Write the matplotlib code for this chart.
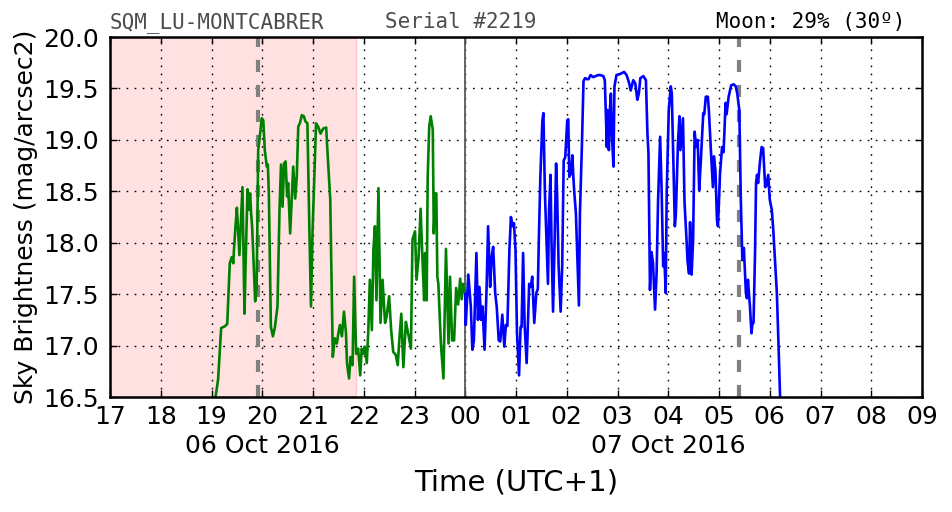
import matplotlib
matplotlib.use("Agg")
import matplotlib.pyplot as plt
import matplotlib.transforms as mtransforms

# ---------------- data ----------------
green_t = [19.05, 19.13, 19.19, 19.27, 19.31, 19.36, 19.40, 19.43, 19.44, 19.47, 19.50, 19.55,
           19.61, 19.65, 19.68, 19.71, 19.74, 19.76, 19.78, 19.80, 19.82, 19.86, 19.89, 19.92,
           19.96, 19.99, 20.02, 20.05, 20.09, 20.11, 20.13, 20.17, 20.21, 20.25, 20.30, 20.34,
           20.37, 20.40, 20.43, 20.46, 20.49, 20.51, 20.55, 20.58, 20.61, 20.65, 20.68, 20.71,
           20.74, 20.78, 20.82, 20.85, 20.89, 20.93, 20.96, 20.99, 21.03, 21.06, 21.10, 21.15,
           21.20, 21.26, 21.28, 21.34, 21.39, 21.43, 21.47, 21.50, 21.53, 21.57, 21.61, 21.65,
           21.67, 21.71, 21.74, 21.78, 21.81, 21.85, 21.89, 21.93, 21.96, 21.99, 22.02, 22.06,
           22.09, 22.12, 22.16, 22.19, 22.22, 22.25, 22.29, 22.33, 22.37, 22.42, 22.45, 22.50,
           22.54, 22.58, 22.63, 22.67, 22.70, 22.74, 22.78, 22.83, 22.87, 22.93, 22.96, 23.01,
           23.04, 23.08, 23.12, 23.16, 23.19, 23.21, 23.24, 23.26, 23.29, 23.32, 23.36, 23.38,
           23.41, 23.43, 23.45, 23.47, 23.52, 23.57, 23.62, 23.67, 23.70, 23.74, 23.78, 23.82,
           23.86, 23.90, 23.93, 23.96, 24.00]
green_m = [16.40, 16.67, 17.17, 17.19, 17.21, 17.80, 17.86, 17.80, 17.91, 18.14, 18.34, 17.88,
           18.54, 17.31, 17.96, 18.52, 18.32, 18.48, 18.29, 18.16, 17.93, 17.43, 17.57, 18.90,
           19.07, 19.21, 19.19, 18.90, 18.74, 18.76, 18.48, 17.18, 17.09, 17.18, 17.38, 18.32,
           18.76, 18.35, 18.77, 18.79, 18.45, 18.58, 18.09, 18.42, 18.74, 18.43, 18.64, 19.13,
           19.16, 19.24, 19.23, 19.18, 19.16, 18.09, 17.38, 18.09, 18.71, 19.16, 19.13, 19.06,
           19.11, 19.12, 18.93, 18.42, 16.89, 17.07, 17.02, 17.12, 17.20, 17.09, 17.33, 17.12,
           16.83, 16.68, 16.89, 16.81, 17.67, 16.92, 16.97, 16.71, 16.97, 16.92, 16.99, 16.83,
           17.15, 17.64, 17.15, 17.93, 18.16, 17.44, 18.53, 17.22, 17.64, 17.22, 17.28, 17.48,
           17.15, 16.94, 16.91, 16.81, 17.05, 17.31, 16.79, 17.23, 17.13, 16.97, 18.03, 18.11,
           17.64, 17.85, 18.33, 17.80, 17.44, 17.90, 17.44, 18.64, 19.13, 19.23, 19.10, 18.09,
           18.48, 18.48, 17.67, 17.60, 17.02, 16.68, 17.94, 17.02, 17.67, 17.05, 17.05, 17.56,
           17.40, 17.65, 17.45, 17.60, 17.50]

blue_t = [24.00, 24.01, 24.06, 24.11, 24.14, 24.17, 24.22, 24.25, 24.28, 24.31, 24.34, 24.38,
          24.42, 24.45, 24.49, 24.52, 24.55, 24.59, 24.62, 24.66, 24.69, 24.73, 24.77, 24.80,
          24.83, 24.87, 24.90, 24.93, 24.96, 24.99, 25.02, 25.06, 25.09, 25.11, 25.14, 25.17,
          25.21, 25.26, 25.29, 25.32, 25.36, 25.40, 25.43, 25.45, 25.48, 25.52, 25.54, 25.57,
          25.60, 25.63, 25.65, 25.68, 25.70, 25.73, 25.76, 25.79, 25.81, 25.84, 25.88, 25.91,
          25.94, 25.97, 26.01, 26.03, 26.05, 26.08, 26.11, 26.13, 26.15, 26.18, 26.21, 26.24,
          26.26, 26.30, 26.33, 26.36, 26.40, 26.43, 26.47, 26.52, 26.57, 26.62, 26.66, 26.72,
          26.75, 26.79, 26.80, 26.83, 26.85, 26.87, 26.89, 26.92, 26.94, 26.98, 27.05, 27.13,
          27.18, 27.23, 27.26, 27.31, 27.35, 27.39, 27.42, 27.45, 27.51, 27.56, 27.59, 27.61,
          27.64, 27.67, 27.70, 27.74, 27.77, 27.80, 27.84, 27.87, 27.90, 27.92, 27.95, 27.97,
          28.01, 28.05, 28.07, 28.10, 28.13, 28.15, 28.19, 28.22, 28.24, 28.26, 28.29, 28.32,
          28.36, 28.38, 28.41, 28.43, 28.46, 28.49, 28.52, 28.55, 28.58, 28.61, 28.64, 28.69,
          28.71, 28.74, 28.78, 28.80, 28.84, 28.88, 28.90, 28.93, 28.96, 28.98, 29.02, 29.06,
          29.09, 29.13, 29.15, 29.19, 29.24, 29.29, 29.33, 29.36, 29.40, 29.43, 29.46, 29.49,
          29.53, 29.55, 29.57, 29.61, 29.64, 29.66, 29.68, 29.71, 29.73, 29.75, 29.77, 29.81,
          29.84, 29.87, 29.91, 29.93, 29.97, 30.00, 30.04, 30.07, 30.10, 30.14, 30.17, 30.21]
blue_m = [17.50, 17.20, 17.69, 17.38, 16.96, 17.05, 17.90, 17.25, 17.57, 17.25, 17.38, 16.96,
          17.55, 18.16, 17.57, 17.86, 17.96, 17.51, 17.38, 17.05, 17.04, 17.30, 16.99, 17.20,
          17.19, 17.93, 18.25, 18.16, 18.19, 17.93, 17.12, 16.71, 17.18, 17.18, 17.90, 17.20,
          16.83, 17.60, 17.57, 17.67, 17.22, 17.51, 17.55, 18.03, 18.64, 19.19, 19.26, 18.48,
          18.03, 17.60, 18.30, 18.66, 18.00, 17.33, 18.00, 18.77, 18.48, 17.77, 17.33, 17.77,
          18.80, 18.83, 19.19, 19.20, 18.64, 18.67, 18.85, 18.64, 18.48, 18.29, 17.83, 17.39,
          18.29, 18.97, 19.57, 19.60, 19.59, 19.59, 19.63, 19.61, 19.62, 19.63, 19.63, 19.62,
          19.58, 18.93, 19.29, 18.90, 19.29, 19.45, 19.05, 18.74, 19.52, 19.63, 19.64, 19.66,
          19.63, 19.55, 19.48, 19.58, 19.55, 19.39, 19.45, 19.60, 19.62, 19.58, 19.06, 18.87,
          17.54, 17.91, 17.80, 17.35, 17.70, 18.42, 19.03, 18.50, 17.77, 17.90, 17.51, 18.50,
          19.29, 19.52, 19.45, 18.80, 18.16, 18.28, 18.95, 19.23, 18.90, 19.02, 19.21, 18.40,
          18.03, 17.82, 17.70, 18.20, 17.69, 18.03, 19.08, 18.93, 19.00, 18.51, 18.78, 19.26,
          19.25, 19.42, 19.42, 19.29, 18.90, 18.54, 18.84, 18.70, 18.22, 18.16, 18.67, 18.93,
          18.88, 19.36, 19.25, 19.42, 19.53, 19.54, 19.52, 19.45, 19.29, 18.42, 17.83, 17.95,
          17.51, 17.46, 17.64, 17.38, 17.12, 17.22, 17.22, 17.90, 18.58, 18.66, 18.58, 18.80,
          18.93, 18.92, 18.54, 18.55, 18.66, 18.42, 18.32, 18.12, 17.86, 17.51, 17.05, 16.40]

x_ticks = list(range(17, 34))
x_tick_labels = ["17", "18", "19", "20", "21", "22", "23", "00", "01", "02", "03",
                 "04", "05", "06", "07", "08", "09"]
y_ticks = [16.5, 17.0, 17.5, 18.0, 18.5, 19.0, 19.5, 20.0]
date_labels = ["06 Oct 2016", "07 Oct 2016"]
date_label_pos = [20.0, 28.0]
twilight_span = (17.0, 21.85)
moon_lines = [19.91, 29.39]
midnight = 24.0

title_left = "SQM_LU-MONTCABRER"
title_mid = "Serial #2219"
title_right = "Moon: 29% (30º)"

# ---------------- plot ----------------
fig = plt.figure(figsize=(9.52, 5.12), dpi=100)
ax = fig.add_axes([110/952, 1 - 397/512, 812/952, 360/512])

ax.axvspan(*twilight_span, facecolor="#ffe1e1", edgecolor="#ffc8c8", lw=1, zorder=0)

ax.grid(True, color="black", linestyle=(0, (1.2, 4.6)), lw=1.0, zorder=1)
ax.set_axisbelow(True)

for xm in moon_lines:
    ax.axvline(xm, color="gray", lw=3, linestyle=(0, (2.9, 3.1)), zorder=3)
ax.axvline(midnight, color="0.35", lw=1.3, zorder=3)

ax.plot(green_t, green_m, color="green", lw=1.9, zorder=4)
ax.plot(blue_t, blue_m, color="blue", lw=1.9, zorder=4)

ax.set_xlim(17, 33)
ax.set_ylim(16.5, 20.0)
ax.set_xticks(x_ticks)
ax.set_xticklabels(x_tick_labels)
ax.set_yticks(y_ticks)
ax.set_yticklabels(["%.1f" % v for v in y_ticks])
ax.tick_params(direction="in", top=True, right=True, length=5, width=1,
               labelsize=18, pad=6)
ax.tick_params(axis="y", pad=8)
for s in ax.spines.values():
    s.set_linewidth(1.8)
    s.set_zorder(5)

trans = mtransforms.blended_transform_factory(ax.transData, ax.transAxes)
for lbl, pos in zip(date_labels, date_label_pos):
    ax.text(pos, -0.135, lbl, transform=trans, ha="center", va="center", fontsize=18)

ax.set_xlabel("Time (UTC+1)", fontsize=21)
ax.xaxis.set_label_coords(0.5, -0.20)
ax.set_ylabel("Sky Brightness (mag/arcsec2)", fontsize=18)
ax.yaxis.set_label_coords(-0.089, 0.5)

ax.text(0.0, 1.024, title_left, transform=ax.transAxes, ha="left", va="baseline",
        family="DejaVu Sans Mono", fontsize=15, color="0.3", zorder=6)
ax.text(0.339, 1.024, title_mid, transform=ax.transAxes, ha="left", va="baseline",
        family="DejaVu Sans Mono", fontsize=15, color="0.3", zorder=6)
ax.text(0.979, 1.024, title_right, transform=ax.transAxes, ha="right", va="baseline",
        family="DejaVu Sans Mono", fontsize=15, color="black", zorder=6)

fig.savefig("out.png", dpi=100)
